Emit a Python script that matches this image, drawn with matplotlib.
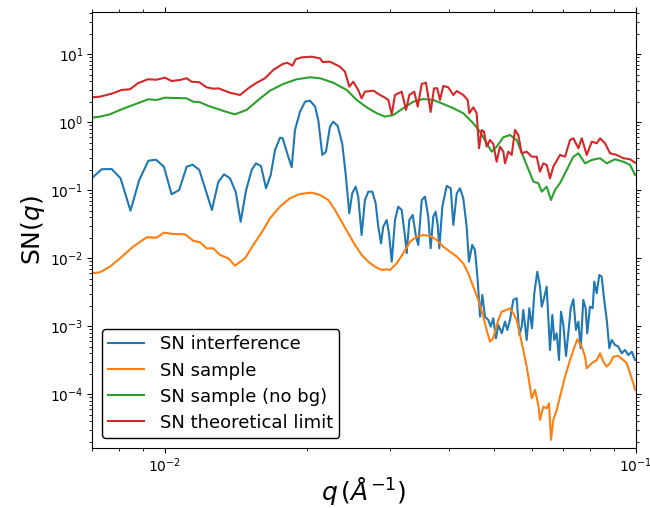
import matplotlib
matplotlib.use("Agg")
import matplotlib.pyplot as plt

# Signal-to-noise curves versus scattering vector q (1/Angstrom)

q_interf = [0.00699, 0.00734, 0.00771, 0.00805, 0.00845, 0.00882, 0.00922, 0.00957, 0.00995,
            0.01033, 0.01072, 0.01112, 0.01145, 0.01183, 0.01226, 0.01258, 0.01298, 0.01335,
            0.01374, 0.01413, 0.01448, 0.01486, 0.01528, 0.0156, 0.01599, 0.01639, 0.01677,
            0.01713, 0.01755, 0.01778, 0.01827, 0.01858, 0.01888, 0.01935, 0.01983, 0.02032,
            0.02083, 0.02116, 0.02158, 0.02197, 0.0224, 0.02277, 0.02326, 0.02378, 0.02418,
            0.02462, 0.02498, 0.0254, 0.02572, 0.02615, 0.02658, 0.02702, 0.02755, 0.02801,
            0.02837, 0.02875, 0.02907, 0.02956, 0.02989, 0.0303, 0.03079, 0.03128, 0.03181,
            0.03233, 0.0326, 0.03302, 0.03357, 0.03411, 0.0345, 0.03508, 0.03565, 0.03622,
            0.03665, 0.03712, 0.03755, 0.03793, 0.03823, 0.0388, 0.03964, 0.04043, 0.04094,
            0.04163, 0.0423, 0.04298, 0.0437, 0.04419, 0.04491, 0.04551, 0.04612, 0.04665,
            0.04717, 0.04779, 0.04857, 0.04915, 0.04977, 0.05043, 0.051, 0.05187, 0.05271,
            0.05331, 0.05401, 0.05489, 0.0558, 0.05653, 0.05719, 0.05763, 0.0586, 0.05935,
            0.06014, 0.06083, 0.06172, 0.06254, 0.06307, 0.06378, 0.06462, 0.06567, 0.06642,
            0.06707, 0.06786, 0.06863, 0.06931, 0.0701, 0.07102, 0.07182, 0.07266, 0.07362,
            0.07456, 0.07544, 0.0763, 0.07727, 0.07818, 0.0788, 0.07984, 0.08091, 0.08154,
            0.08254, 0.08356, 0.08455, 0.08551, 0.08667, 0.08777, 0.0888, 0.09024, 0.09171,
            0.09325, 0.09476, 0.09631, 0.09793, 0.09954]
sn_interf = [0.15, 0.204, 0.205, 0.15, 0.0501, 0.142, 0.272, 0.282, 0.222,
             0.0873, 0.101, 0.222, 0.238, 0.199, 0.0903, 0.0513, 0.1325, 0.172,
             0.15, 0.0954, 0.0345, 0.0987, 0.199, 0.249, 0.228, 0.107, 0.168,
             0.392, 0.594, 0.582, 0.312, 0.218, 0.77, 1.43, 2.01, 2.08,
             1.70, 1.08, 0.331, 0.37, 0.861, 1.02, 0.882, 0.491, 0.178,
             0.0459, 0.0903, 0.113, 0.0805, 0.022, 0.072, 0.0954, 0.0954, 0.0644,
             0.0292, 0.0166, 0.0292, 0.0366, 0.0233, 0.0089, 0.0366, 0.0574, 0.0513,
             0.0208, 0.0119, 0.0366, 0.0433, 0.0208, 0.0157, 0.072, 0.0805, 0.0409,
             0.014, 0.0409, 0.0485, 0.0309, 0.014, 0.0574, 0.116, 0.107, 0.0309,
             0.0903, 0.107, 0.0763, 0.0292, 0.0089, 0.0157, 0.0132, 0.0048, 0.00138,
             0.00289, 0.00138, 0.00124, 0.000987, 0.00131, 0.000667, 0.00105, 0.000789, 0.00117,
             0.000883, 0.00124, 0.00244, 0.00258, 0.000745, 0.000987, 0.00174, 0.000629, 0.00184,
             0.000935, 0.00306, 0.00635, 0.00382, 0.00194, 0.00258, 0.00382, 0.000448, 0.00147,
             0.000629, 0.000789, 0.000319, 0.00164, 0.00105, 0.000366, 0.000789, 0.00184, 0.0025,
             0.000883, 0.00117, 0.000475, 0.00244, 0.00184, 0.000789, 0.00194, 0.00184, 0.00453,
             0.00306, 0.00568, 0.00536, 0.00258, 0.00124, 0.000475, 0.000629, 0.000531, 0.000501,
             0.000401, 0.000448, 0.000378, 0.000423, 0.000319]

q_sample = [0.00699, 0.00728, 0.00764, 0.00803, 0.00856, 0.00915, 0.0096, 0.00995, 0.01041,
            0.01103, 0.01148, 0.01187, 0.01226, 0.01266, 0.01309, 0.01363, 0.01408, 0.01479,
            0.0154, 0.01617, 0.01671, 0.01755, 0.01842, 0.01935, 0.02049, 0.02133, 0.02222,
            0.02296, 0.02372, 0.0245, 0.02531, 0.02615, 0.02702, 0.02791, 0.02884, 0.02956,
            0.03004, 0.03104, 0.03206, 0.03313, 0.03422, 0.03535, 0.03653, 0.03775, 0.03898,
            0.04028, 0.04163, 0.04298, 0.04405, 0.04514, 0.04626, 0.04741, 0.04819, 0.04898,
            0.04977, 0.051, 0.05187, 0.05315, 0.05401, 0.05489, 0.0558, 0.05673, 0.05763,
            0.0586, 0.05956, 0.06006, 0.06104, 0.06203, 0.06254, 0.06356, 0.06462, 0.06535,
            0.06599, 0.06674, 0.06786, 0.06896, 0.07068, 0.07244, 0.07362, 0.07507, 0.0767,
            0.07795, 0.0786, 0.08054, 0.08254, 0.08388, 0.08521, 0.08667, 0.08807, 0.0895,
            0.09171, 0.09398, 0.09556, 0.09712, 0.09869, 0.09954]
sn_sample = [0.00601, 0.00622, 0.00752, 0.01, 0.0148, 0.0204, 0.0201, 0.0238, 0.0228,
             0.0225, 0.0181, 0.0172, 0.014, 0.014, 0.0112, 0.01, 0.00778, 0.01,
             0.0157, 0.0261, 0.0388, 0.0574, 0.0763, 0.0882, 0.0922, 0.0853, 0.072,
             0.0513, 0.0345, 0.0233, 0.0157, 0.0112, 0.0089, 0.00752, 0.00673, 0.0069,
             0.00673, 0.00844, 0.0119, 0.0175, 0.0208, 0.022, 0.0213, 0.0186, 0.0148,
             0.0125, 0.0106, 0.00844, 0.00601, 0.00382, 0.00244, 0.00138, 0.000883, 0.000594,
             0.000667, 0.00124, 0.00164, 0.00174, 0.00184, 0.00155, 0.00124, 0.000745, 0.000448,
             0.000255, 0.000129, 0.0000873, 0.000116, 0.0000696, 0.0000419, 0.0000657, 0.0000622, 0.0000738,
             0.0000213, 0.0000419, 0.0000588, 0.0000922, 0.000182, 0.000319, 0.000448, 0.000644, 0.000501,
             0.000357, 0.000241, 0.000286, 0.000319, 0.000401, 0.000302, 0.000255, 0.000286, 0.000357,
             0.000366, 0.000319, 0.000286, 0.000204, 0.000145, 0.000116]

q_nobg = [0.00699, 0.00728, 0.00764, 0.00803, 0.00856, 0.00922, 0.0096, 0.01, 0.01041,
          0.01112, 0.01148, 0.01187, 0.01236, 0.01288, 0.01352, 0.01408, 0.01491, 0.01578,
          0.01671, 0.01783, 0.01904, 0.02032, 0.02133, 0.02277, 0.02431, 0.02553, 0.02681,
          0.02815, 0.02932, 0.03053, 0.03206, 0.03366, 0.03535, 0.03712, 0.03898, 0.04094,
          0.04298, 0.04514, 0.04665, 0.04819, 0.04939, 0.0506, 0.05227, 0.05401, 0.0558,
          0.05763, 0.05956, 0.06053, 0.06203, 0.06307, 0.06462, 0.06599, 0.0673, 0.06896,
          0.07126, 0.07362, 0.07544, 0.07795, 0.08054, 0.08388, 0.08667, 0.09024, 0.09398,
          0.09712, 0.09954]
sn_nobg = [1.17, 1.21, 1.31, 1.52, 1.80, 2.18, 2.13, 2.30, 2.28,
           2.25, 2.01, 1.97, 1.74, 1.585, 1.42, 1.31, 1.52, 2.13,
           2.92, 3.66, 4.29, 4.59, 4.44, 3.82, 2.99, 2.13, 1.66,
           1.36, 1.21, 1.28, 1.61, 2.01, 2.20, 2.13, 1.86, 1.61,
           1.36, 0.967, 0.727, 0.491, 0.37, 0.438, 0.602, 0.65, 0.549,
           0.312, 0.178, 0.134, 0.127, 0.0954, 0.113, 0.072, 0.101, 0.127,
           0.199, 0.312, 0.35, 0.249, 0.279, 0.296, 0.249, 0.286, 0.263,
           0.236, 0.168]

q_limit = [0.00699, 0.00728, 0.00776, 0.00809, 0.00843, 0.00876, 0.0092, 0.0096, 0.01,
           0.01033, 0.01076, 0.01112, 0.01139, 0.01183, 0.01226, 0.01266, 0.01298, 0.01374,
           0.01443, 0.01503, 0.01566, 0.01631, 0.01698, 0.01778, 0.01819, 0.01864, 0.01895,
           0.01951, 0.02049, 0.02133, 0.02161, 0.0224, 0.02352, 0.02411, 0.02462, 0.0251,
           0.02572, 0.02615, 0.02658, 0.02769, 0.02861, 0.02932, 0.0298, 0.0303, 0.03079,
           0.03181, 0.03249, 0.03302, 0.03383, 0.0344, 0.03508, 0.03582, 0.03665, 0.03725,
           0.03785, 0.03836, 0.03898, 0.03995, 0.04094, 0.04163, 0.04298, 0.04392, 0.04426,
           0.04514, 0.04589, 0.04642, 0.04703, 0.04757, 0.04819, 0.04898, 0.04977, 0.0506,
           0.05143, 0.05227, 0.05271, 0.05357, 0.05446, 0.05535, 0.05625, 0.05719, 0.0586,
           0.06006, 0.06154, 0.06254, 0.06356, 0.06462, 0.06567, 0.06674, 0.06896, 0.07068,
           0.07244, 0.07362, 0.07544, 0.0767, 0.0786, 0.08054, 0.08254, 0.08388, 0.08595,
           0.08807, 0.091, 0.09398, 0.09712, 0.09954]
sn_limit = [2.33, 2.38, 2.67, 2.99, 3.06, 3.75, 4.29, 4.23, 4.53,
            4.05, 4.19, 4.44, 3.95, 3.88, 3.27, 3.12, 3.16, 2.72,
            2.52, 3.16, 3.82, 4.44, 5.88, 7.2, 7.52, 6.8, 8.44,
            9.03, 9.22, 8.73, 7.7, 7.78, 6.57, 5.55, 3.34, 3.95,
            2.99, 2.25, 2.82, 2.92, 2.52, 2.30, 2.13, 1.31, 2.52,
            2.82, 1.52, 2.52, 2.82, 1.70, 3.66, 3.82, 1.42, 3.16,
            3.16, 2.13, 3.42, 3.27, 2.52, 2.88, 2.52, 2.13, 1.36,
            1.66, 1.36, 0.415, 0.77, 0.727, 0.438, 0.549, 0.48, 0.263,
            0.438, 0.37, 0.249, 0.37, 0.331, 0.77, 0.65, 0.35, 0.37,
            0.312, 0.312, 0.188, 0.249, 0.236, 0.15, 0.222, 0.331, 0.312,
            0.549, 0.582, 0.415, 0.582, 0.331, 0.519, 0.491, 0.582, 0.491,
            0.35, 0.331, 0.296, 0.286, 0.255]

labels = ["SN interference", "SN sample", "SN sample (no bg)", "SN theoretical limit"]
colors = ["#1f77b4", "#ff7f0e", "#2ca02c", "#d62728"]

fig = plt.figure(figsize=(6.5, 5.08), dpi=100)
ax = fig.add_axes([0.1415, 0.1181, 0.837, 0.8583])

series = [(q_interf, sn_interf), (q_sample, sn_sample), (q_nobg, sn_nobg), (q_limit, sn_limit)]
for (q, sn), lab, col in zip(series, labels, colors):
    ax.plot(q, sn, color=col, lw=1.5, label=lab)

ax.set_xscale("log")
ax.set_yscale("log")
ax.set_xlim(0.007, 0.1)
ax.set_ylim(1.62e-5, 41.9)

ax.tick_params(which="both", direction="out", top=True, right=True,
               labelsize=10, pad=2.5)

ax.set_xlabel(r"$q\,(\AA^{-1})$", fontsize=18, labelpad=0)
ax.set_ylabel(r"SN($q$)", fontsize=18, labelpad=2)

leg = ax.legend(loc="lower left", fontsize=13, frameon=True, fancybox=True,
                framealpha=1.0, edgecolor="black", borderaxespad=0.55,
                labelspacing=0.45, borderpad=0.35, handletextpad=0.85)
leg.get_frame().set_linewidth(1.0)

fig.savefig("out.png", dpi=100)
